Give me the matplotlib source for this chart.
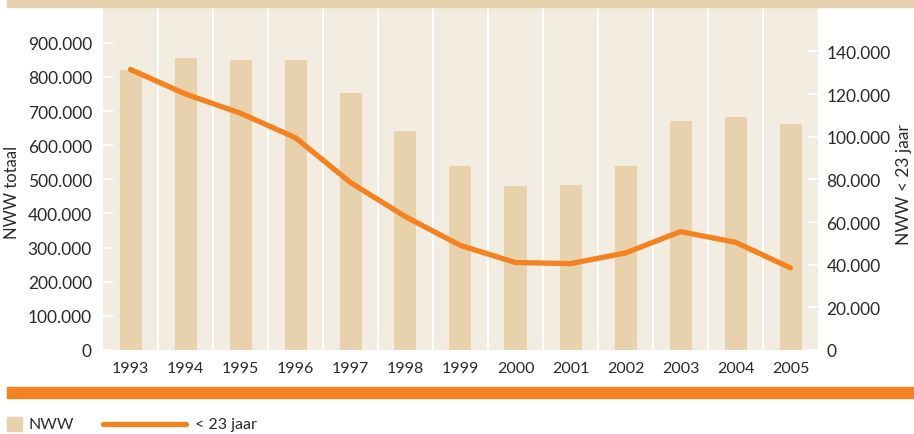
import matplotlib.pyplot as plt
from matplotlib.lines import Line2D
from matplotlib.patches import Rectangle
from matplotlib.ticker import FuncFormatter

# === Data ===
years = ["1993", "1994", "1995", "1996", "1997", "1998", "1999",
         "2000", "2001", "2002", "2003", "2004", "2005"]
nww_totaal = [820000, 855000, 850000, 850000, 753000, 643000, 540000,
              480000, 483000, 540000, 670000, 684000, 663000]
nww_jong = [131500, 120000, 111000, 99500, 78500, 62500, 49000,
            41000, 40500, 45500, 55500, 50500, 38500]

# === Style ===
BG = "#F3ECE1"
BAR = "#E8D2AE"
ORANGE = "#F58220"
TEXT = "#2b2b2b"
W, H = 914, 435

plt.rcParams["font.family"] = ["Lato", "DejaVu Sans"]
plt.rcParams["text.color"] = TEXT


def dots(v, pos):
    return f"{int(v):,}".replace(",", ".")


fig = plt.figure(figsize=(W / 100, H / 100), dpi=100)
ax = fig.add_axes([103 / W, (H - 351) / H, 715 / W, 343 / H])
ax.set_facecolor(BG)

x = list(range(len(years)))
ax.bar(x, nww_totaal, width=0.4, color=BAR, zorder=2)
for sep in x[:-1]:
    ax.axvline(sep + 0.5, color="white", lw=1.5, zorder=1)

ax.set_xlim(-0.5, len(years) - 0.5)
ax.set_ylim(0, 1005000)
ax.set_yticks(range(0, 900001, 100000))
ax.yaxis.set_major_formatter(FuncFormatter(dots))
ax.set_xticks(x)
ax.set_xticklabels(years)
for s in ax.spines.values():
    s.set_visible(False)
ax.tick_params(axis="y", direction="in", length=7.5, width=1.5, color="white",
               pad=8, labelsize=12.5, labelcolor=TEXT)
ax.tick_params(axis="x", length=0, pad=8, labelsize=11.5, labelcolor=TEXT)

ax2 = ax.twinx()
ax2.plot(x, nww_jong, color=ORANGE, lw=3.8, solid_capstyle="round",
         solid_joinstyle="round", zorder=3)
ax2.set_ylim(0, 160800)
ax2.set_yticks(range(0, 140001, 20000))
ax2.yaxis.set_major_formatter(FuncFormatter(dots))
for s in ax2.spines.values():
    s.set_visible(False)
ax2.tick_params(axis="y", direction="in", length=7.5, width=1.5, color="white",
                pad=6, labelsize=12.5, labelcolor=TEXT)

fig.text(12 / W, 1 - 192 / H, "NWW totaal", rotation=90, ha="center",
         va="center", fontsize=12)
fig.text(904 / W, 1 - 185 / H, "NWW < 23 jaar", rotation=90, ha="center",
         va="center", fontsize=12.5)

# bands
fig.patches.append(Rectangle((7 / W, 1 - 8 / H), 1 - 7 / W, 8 / H,
                             transform=fig.transFigure, color=BAR, zorder=10))
fig.patches.append(Rectangle((7 / W, 1 - 399 / H), 1 - 7 / W, 11 / H,
                             transform=fig.transFigure, color=ORANGE, zorder=10))

# legend
ly = 1 - 425 / H
fig.patches.append(Rectangle((7 / W, 1 - 432 / H), 15 / W, 14 / H,
                             transform=fig.transFigure, color=BAR))
fig.text(29 / W, ly, "NWW", ha="left", va="center", fontsize=11.5)
fig.lines.append(Line2D([103 / W, 186 / W], [ly, ly], transform=fig.transFigure,
                        color=ORANGE, lw=3.8, solid_capstyle="round"))
fig.text(195 / W, ly, "< 23 jaar", ha="left", va="center", fontsize=11.5)

plt.savefig("out.png", dpi=100)
